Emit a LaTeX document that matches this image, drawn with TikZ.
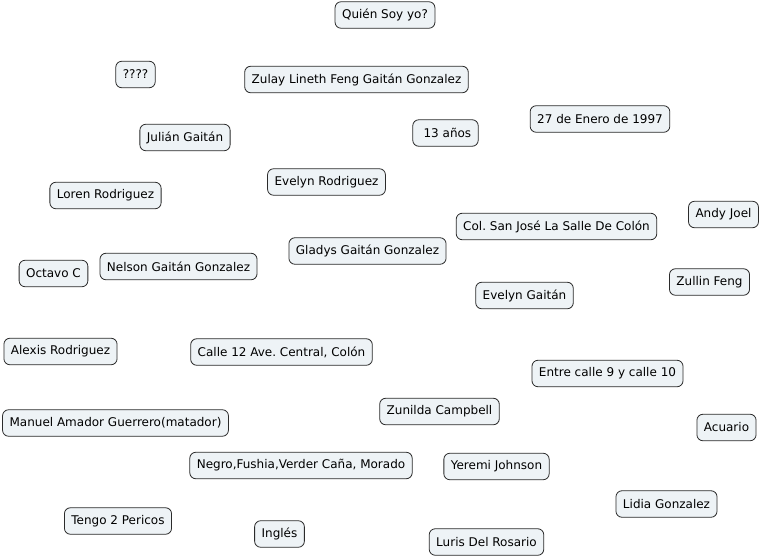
\documentclass[tikz,border=0pt]{standalone}
\usepackage{fontspec}
\setmainfont{DejaVu Sans}
\usepackage{xcolor}
\usetikzlibrary{positioning}
\frenchspacing
\definecolor{boxfill}{HTML}{EEF3F6}
\definecolor{boxline}{HTML}{2B2B2B}
\tikzset{
  idea/.style={draw=boxline, line width=0.8pt, fill=boxfill, rounded corners=6pt,
    inner xsep=7pt, minimum height=26.5pt, font=\fontsize{12pt}{14pt}\selectfont},
}
\begin{document}
\begin{tikzpicture}[x=1pt,y=-1pt]
\useasboundingbox[fill=white] (0,0) rectangle (763,557);

% first rows
\node[idea] (quien) at (385,15) {Quién Soy yo?};
\node[idea] (dudas) at (135.5,74.5) {????};
\node[idea] (nombre) at (356.5,79.5) {Zulay Lineth Feng Gaitán Gonzalez};
\node[idea] (edad) at (445.5,133) {\ 13 años};
\node[idea] (fecha) at (600,119) {27 de Enero de 1997};
\node[idea] (julian) at (185,137.5) {Julián Gaitán};
\node[idea] (evelynr) at (326.5,182) {Evelyn Rodriguez};
\node[idea] (loren) at (105.5,195.5) {Loren Rodriguez};
\node[idea] (andy) at (723.5,214.5) {Andy Joel};
\node[idea] (colegio) at (556.5,226.5) {Col. San José La Salle De Colón};
\node[idea] (gladys) at (367.5,251) {Gladys Gaitán Gonzalez};
\node[idea] (grado) at (53.5,273.5) {Octavo C};
\node[idea] (nelson) at (178.5,266.5) {Nelson Gaitán Gonzalez};
\node[idea] (zullin) at (709.5,282) {Zullin Feng};
\node[idea] (evelyng) at (524.5,295.5) {Evelyn Gaitán};

% middle
\node[idea] (alexis) at (60.5,351.5) {Alexis Rodriguez};
\node[idea] (calle) at (281.5,352) {Calle 12 Ave. Central, Colón};
\node[idea] (entre) at (607.5,373.5) {Entre calle 9 y calle 10};
\node[idea] (zunilda) at (439.5,411.5) {Zunilda Campbell};
\node[idea] (manuel) at (115.5,423) {Manuel Amador Guerrero(matador)};
\node[idea] (signo) at (726.5,427.5) {Acuario};

% bottom
\node[idea] (colores) at (301,465.5) {Negro,Fushia,Verder Caña, Morado};
\node[idea] (yeremi) at (496.5,466.5) {Yeremi Johnson};
\node[idea] (lidia) at (666.5,504) {Lidia Gonzalez};
\node[idea] (pericos) at (118,521) {Tengo 2 Pericos};
\node[idea] (idioma) at (279.5,534) {Inglés};
\node[idea] (luris) at (486.5,542) {Luris Del Rosario};
\end{tikzpicture}
\end{document}
